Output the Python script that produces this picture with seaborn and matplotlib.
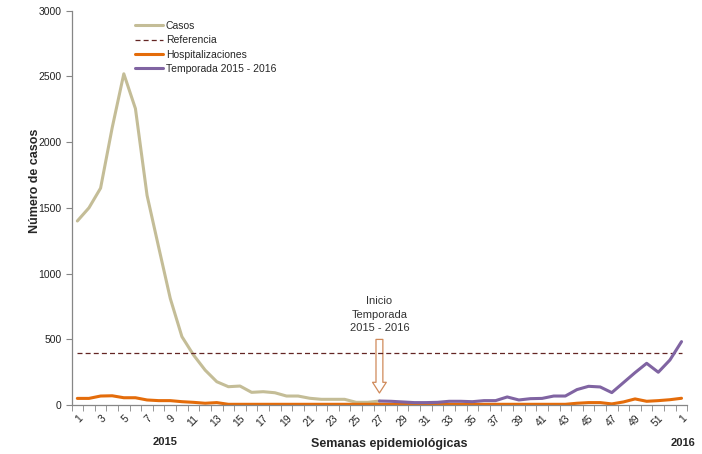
import numpy as np
import pandas as pd
import matplotlib
matplotlib.use("Agg")
import matplotlib.pyplot as plt
import seaborn as sns
from matplotlib.lines import Line2D
from matplotlib.patches import FancyArrowPatch

week_labels = ["1", "2", "3", "4", "5", "6", "7", "8", "9", "10",
               "11", "12", "13", "14", "15", "16", "17", "18", "19", "20",
               "21", "22", "23", "24", "25", "26", "27", "28", "29", "30",
               "31", "32", "33", "34", "35", "36", "37", "38", "39", "40",
               "41", "42", "43", "44", "45", "46", "47", "48", "49", "50",
               "51", "52", "1"]

# Casos: weeks 1..27 of 2015
casos = [1400, 1500, 1650, 2110, 2520, 2255, 1595, 1200, 810, 520,
         380, 265, 177, 139, 144, 96, 101, 93, 68, 68,
         51, 43, 43, 43, 20, 20, 30]

# Hospitalizaciones: all 53 weeks
hosp = [50, 50, 68, 70, 55, 55, 38, 33, 33, 25,
        20, 13, 18, 5, 5, 5, 5, 5, 5, 5,
        5, 5, 5, 5, 5, 5, 5, 5, 5, 5,
        5, 5, 5, 5, 5, 5, 5, 5, 5, 5,
        5, 5, 5, 13, 18, 18, 8, 23, 46, 28,
        33, 40, 51]

# Temporada 2015 - 2016: week 27 (2015) to week 1 (2016)
temporada = [30, 28, 23, 18, 18, 20, 28, 28, 25, 33,
             33, 61, 38, 48, 50, 68, 68, 117, 142, 137,
             94, 170, 246, 317, 249, 342, 482]

referencia = 393

n = len(week_labels)
idx = np.arange(n)
df_casos = pd.DataFrame({"x": idx[:len(casos)], "y": casos})
df_hosp = pd.DataFrame({"x": idx, "y": hosp})
df_temp = pd.DataFrame({"x": idx[n - len(temporada):], "y": temporada})
df_ref = pd.DataFrame({"x": idx, "y": [referencia] * n})

sns.set_style("white")
plt.rcParams["font.family"] = ["Liberation Sans", "DejaVu Sans"]

fig = plt.figure(figsize=(7.02, 4.54), dpi=100)
ax = fig.add_axes([0.1019, 0.108, 0.8772, 0.8684])

c_casos = "#c4bd97"
c_ref = "#632523"
c_hosp = "#e46c0a"
c_temp = "#8064a2"

sns.lineplot(data=df_casos, x="x", y="y", ax=ax, color=c_casos, lw=2.2)
sns.lineplot(data=df_ref, x="x", y="y", ax=ax, color=c_ref, lw=0.9,
             linestyle=(0, (4, 2.5)))
sns.lineplot(data=df_hosp, x="x", y="y", ax=ax, color=c_hosp, lw=2.2)
sns.lineplot(data=df_temp, x="x", y="y", ax=ax, color=c_temp, lw=2.2)

ax.set_xlim(-0.5, n - 0.5)
ax.set_ylim(0, 3000)
ax.set_yticks(range(0, 3001, 500))
ax.set_yticklabels([str(v) for v in range(0, 3001, 500)], fontsize=7.5, color="#222222")

# category labels every other week, ticks between categories
lab_pos = list(range(0, n, 2))
ax.set_xticks(lab_pos)
ax.set_xticklabels([week_labels[i] for i in lab_pos], rotation=45, ha="right",
                   va="top", rotation_mode="anchor", fontsize=7.5, color="#222222")
ax.set_xticks(np.arange(-0.5, n, 1.0), minor=True)
ax.tick_params(axis="x", which="major", length=0, pad=6)
ax.tick_params(axis="x", which="minor", length=4, color="#868686", direction="out", bottom=True)
ax.tick_params(axis="y", which="major", length=4, color="#868686", direction="out", left=True, pad=3)

for s in ["top", "right"]:
    ax.spines[s].set_visible(False)
for s in ["left", "bottom"]:
    ax.spines[s].set_color("#868686")
    ax.spines[s].set_linewidth(0.9)

ax.set_xlabel("")
ax.set_ylabel("")

# Legend
handles = [Line2D([], [], color=c_casos, lw=2.2),
           Line2D([], [], color=c_ref, lw=0.9, linestyle=(0, (4, 2.5))),
           Line2D([], [], color=c_hosp, lw=2.2),
           Line2D([], [], color=c_temp, lw=2.2)]
labels = ["Casos", "Referencia", "Hospitalizaciones", "Temporada 2015 - 2016"]
ax.legend(handles, labels, loc="upper left", bbox_to_anchor=(0.097, 0.985),
          frameon=False, fontsize=7.5, handlelength=2.6, handletextpad=0.3,
          labelspacing=0.42, borderaxespad=0.0)

# Annotation
ax.text(26, 545, "Inicio\nTemporada\n2015 - 2016", ha="center", va="bottom",
        fontsize=8, color="#333333", linespacing=1.45)
arrow = FancyArrowPatch((26, 520), (26, 70),
                        arrowstyle="simple,head_length=0.7,head_width=0.9,tail_width=0.45",
                        mutation_scale=11, facecolor="white", edgecolor="#d08a5a", lw=0.9)
ax.add_patch(arrow)

# Axis titles
fig.text(35 / 702, 1 - 181 / 454, "Número de casos", rotation=90, ha="center",
         va="center", fontsize=9, fontweight="bold")
fig.text(389 / 702, 1 - 444 / 454, "Semanas epidemiológicas", ha="center",
         va="center", fontsize=9, fontweight="bold")
fig.text(165 / 702, 1 - 442 / 454, "2015", ha="center", va="center",
         fontsize=8, fontweight="bold")
fig.text(683 / 702, 1 - 443 / 454, "2016", ha="center", va="center",
         fontsize=8, fontweight="bold")

fig.savefig("out.png", dpi=100)
